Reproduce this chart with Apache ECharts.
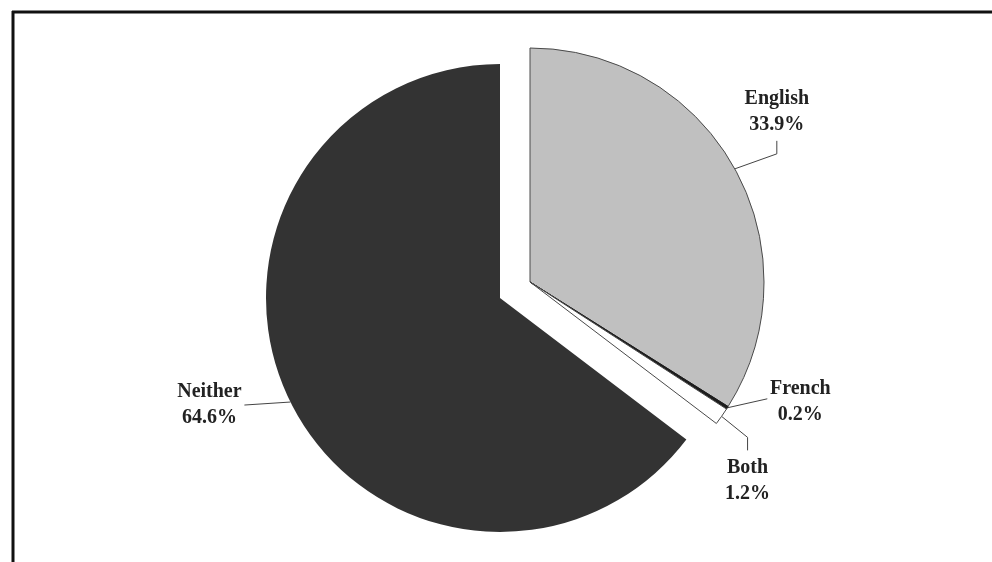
<!DOCTYPE html>
<html>
<head>
<meta charset="utf-8">
<title>Language knowledge</title>
<script src="https://cdn.jsdelivr.net/npm/echarts@6/dist/echarts.min.js"></script>
<style>
  html, body { margin: 0; padding: 0; background: #fff; }
  #chart { width: 992px; height: 562px; }
</style>
</head>
<body>
<div id="chart"></div>
<script>
// data
const categories = ["English", "French", "Both", "Neither"];
const shares = [33.9, 0.2, 1.2, 64.6];
const explodedGroup = ["English", "French", "Both"];

const fills = { English: "#c0c0c0", French: "#1c1c1c", Both: "#ffffff", Neither: "#333333" };
const borders = { English: "#4a4a4a", French: "#1c1c1c", Both: "#4a4a4a", Neither: "#333333" };

// leader line bends (relative to the edge point) and label placement
const leaders = {
  English: { bend: [42, -15], end: [0, -13], dx: 0, dy: -3, align: "center", vAlign: "bottom" },
  French: { bend: [40, -9], end: null, dx: 33, dy: 3, align: "center", vAlign: "middle" },
  Both: { bend: [26, 21], end: [0, 13], dx: 0, dy: 4, align: "center", vAlign: "top" },
  Neither: { bend: [-46, 3], end: null, dx: -35, dy: 0, align: "center", vAlign: "middle" },
};

function layoutLabel(params) {
  const name = categories[params.dataIndex];
  const cfg = leaders[name];
  if (!cfg || !params.labelLinePoints) return {};
  const p0 = params.labelLinePoints[0];
  const p1 = [p0[0] + cfg.bend[0], p0[1] + cfg.bend[1]];
  const pts = [p0, p1];
  let last = p1;
  if (cfg.end) {
    last = [p1[0] + cfg.end[0], p1[1] + cfg.end[1]];
    pts.push(last);
  }
  return {
    x: last[0] + cfg.dx,
    y: last[1] + cfg.dy,
    align: cfg.align,
    verticalAlign: cfg.vAlign,
    labelLinePoints: pts,
  };
}

function buildData(visible) {
  return categories.map(function (name, i) {
    const show = visible(name);
    return {
      name: name,
      value: shares[i],
      itemStyle: show
        ? { color: fills[name], borderColor: borders[name], borderWidth: name == "Neither" ? 0 : 1 }
        : { color: "rgba(0,0,0,0)", borderWidth: 0 },
      label: { show: show },
      labelLine: { show: show },
    };
  });
}

const labelStyle = {
  formatter: "{b}\n{c}%",
  fontFamily: "Liberation Serif",
  fontWeight: "bold",
  fontSize: 20,
  lineHeight: 26,
  color: "#222",
};

const lineStyle = { lineStyle: { color: "#444", width: 1 }, smooth: false };

const chart = echarts.init(document.getElementById("chart"));

chart.setOption({
  animation: false,
  backgroundColor: "#fff",
  graphic: [
    { type: "line", shape: { x1: 12, y1: 12, x2: 992, y2: 12 }, style: { stroke: "#111", lineWidth: 3 } },
    { type: "line", shape: { x1: 13, y1: 11, x2: 13, y2: 562 }, style: { stroke: "#111", lineWidth: 3 } },
  ],
  series: [
    {
      // main body of the pie
      type: "pie",
      center: [500, 298],
      radius: 234,
      startAngle: 90,
      clockwise: true,
      avoidLabelOverlap: false,
      silent: true,
      label: labelStyle,
      labelLine: lineStyle,
      labelLayout: layoutLabel,
      data: buildData(function (n) { return explodedGroup.indexOf(n) < 0; }),
    },
    {
      // exploded slices, pulled out together
      type: "pie",
      center: [530, 282],
      radius: 234,
      startAngle: 90,
      clockwise: true,
      avoidLabelOverlap: false,
      silent: true,
      label: labelStyle,
      labelLine: lineStyle,
      labelLayout: layoutLabel,
      data: buildData(function (n) { return explodedGroup.indexOf(n) >= 0; }),
    },
  ],
});
</script>
</body>
</html>
